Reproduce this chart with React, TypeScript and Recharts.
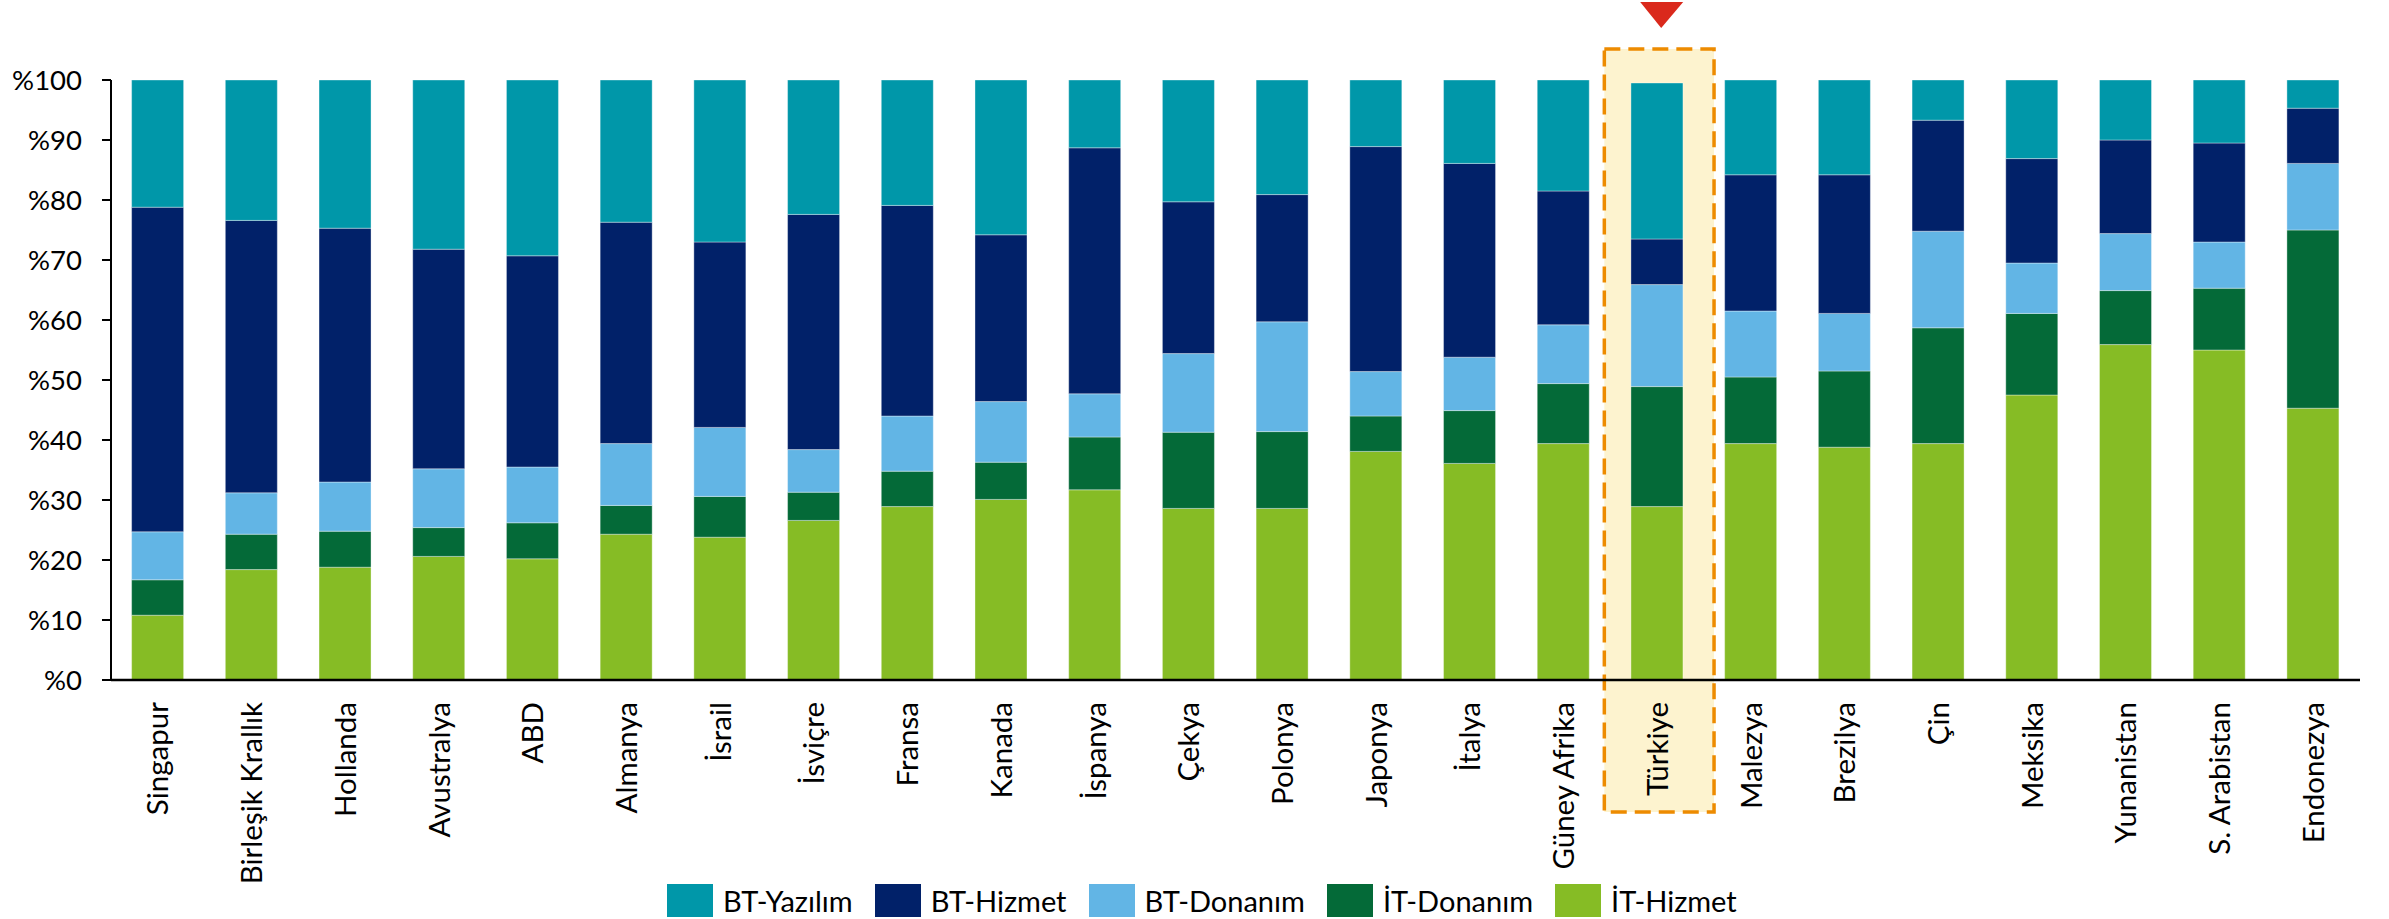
import React from "react";
import { BarChart, Bar, XAxis, YAxis, ReferenceArea } from "recharts";

// ülkeler (soldan sağa)
const countries = [
  "Singapur", "Birleşik Krallık", "Hollanda", "Avustralya", "ABD", "Almanya",
  "İsrail", "İsviçre", "Fransa", "Kanada", "İspanya", "Çekya", "Polonya",
  "Japonya", "İtalya", "Güney Afrika", "Türkiye", "Malezya", "Brezilya",
  "Çin", "Meksika", "Yunanistan", "S. Arabistan", "Endonezya",
];

// paylar (%), alttan üste
const itHizmet = [10.8, 18.4, 18.8, 20.6, 20.2, 24.3, 23.8, 26.6, 28.9, 30.1, 31.7, 28.6, 28.6, 38.1, 36.1, 39.4, 28.9, 39.4, 38.8, 39.4, 47.5, 55.9, 55.0, 45.3];
const itDonanim = [5.9, 5.9, 6.0, 4.8, 6.0, 4.8, 6.8, 4.7, 5.9, 6.2, 8.8, 12.7, 12.8, 5.9, 8.8, 10.0, 20.0, 11.1, 12.7, 19.3, 13.6, 9.0, 10.3, 29.7];
const btDonanim = [8.0, 6.9, 8.2, 9.8, 9.3, 10.3, 11.5, 7.1, 9.2, 10.1, 7.2, 13.1, 18.3, 7.4, 8.9, 9.8, 17.0, 11.0, 9.6, 16.1, 8.4, 9.5, 7.7, 11.1];
const btHizmet = [54.1, 45.4, 42.3, 36.6, 35.2, 36.9, 30.9, 39.2, 35.1, 27.8, 41.0, 25.3, 21.2, 37.5, 32.3, 22.3, 7.6, 22.7, 23.1, 18.5, 17.4, 15.6, 16.5, 9.2];
const btYazilim = [21.2, 23.4, 24.7, 28.2, 29.3, 23.7, 27.0, 22.4, 20.9, 25.8, 11.3, 20.3, 19.1, 11.1, 13.9, 18.5, 26.0, 15.8, 15.8, 6.7, 13.1, 10.0, 10.5, 4.7];

const yTicks = [0, 10, 20, 30, 40, 50, 60, 70, 80, 90, 100];
const edgeTicks = [0, 1, 2, 3, 4, 5, 6, 7, 8, 9, 10, 11, 12, 13, 14, 15, 16, 17, 18, 19, 20, 21, 22, 23, 24];
const highlighted = "Türkiye";

// legend order = top of stack first
const series = [
  { key: "btYazilim", name: "BT-Yazılım", color: "#0097A9" },
  { key: "btHizmet", name: "BT-Hizmet", color: "#012169" },
  { key: "btDonanim", name: "BT-Donanım", color: "#62B5E5" },
  { key: "itDonanim", name: "İT-Donanım", color: "#046A38" },
  { key: "itHizmet", name: "İT-Hizmet", color: "#86BC25" },
];

const data = countries.map((country, i) => ({
  country,
  itHizmet: itHizmet[i],
  itDonanim: itDonanim[i],
  btDonanim: btDonanim[i],
  btHizmet: btHizmet[i],
  btYazilim: btYazilim[i],
}));

const FONT = "Lato, 'Noto Sans', sans-serif";

function CountryTick(props: any) {
  const { x, y, payload } = props;
  return (
    <text
      x={x}
      y={y}
      transform={`rotate(-90, ${x}, ${y})`}
      textAnchor="end"
      dy="0.36em"
      fontFamily={FONT}
      fontSize={29.5}
      fill="#000"
    >
      {payload.value}
    </text>
  );
}

function HighlightBox(props: any) {
  const { x, y, width, height } = props;
  const left = x - 6;
  const right = x + width + 10;
  const top = y - 31;
  const bottom = y + height + 132;
  const cx = (left + right) / 2 + 2;
  return (
    <g>
      <rect
        x={left}
        y={top}
        width={right - left}
        height={bottom - top}
        fill="#FDF3CF"
        stroke="#ED8B00"
        strokeWidth={3.5}
        strokeDasharray="16 8"
      />
      <polygon
        points={`${cx - 21},${top - 47} ${cx + 22},${top - 47} ${cx},${top - 21}`}
        fill="#DA291C"
      />
    </g>
  );
}

export default function App() {
  const stackOrder = [...series].reverse();
  return (
    <div style={{ position: "absolute", left: 0, top: 0, width: 2389, height: 919, background: "#fff" }}>
      <BarChart
        width={2389}
        height={919}
        data={data}
        margin={{ top: 80, right: 29, bottom: 89, left: 0 }}
        barCategoryGap="22%"
      >
        <ReferenceArea
          xAxisId="cat"
          x1={highlighted}
          x2={highlighted}
          y1={0}
          y2={100}
          ifOverflow="visible"
          shape={<HighlightBox />}
        />
        <XAxis
          xAxisId="edge"
          type="number"
          domain={[0, 24]}
          ticks={edgeTicks}
          interval={0}
          tick={false}
          tickSize={10}
          height={0}
          axisLine={false}
          tickLine={{ stroke: "#000", strokeWidth: 2 }}
          allowDataOverflow
        />
        <XAxis
          xAxisId="cat"
          dataKey="country"
          type="category"
          interval={0}
          height={150}
          tickLine={false}
          tickSize={10}
          tickMargin={12}
          axisLine={{ stroke: "#000", strokeWidth: 2.5 }}
          tick={<CountryTick />}
        />
        <YAxis
          width={111}
          domain={[0, 100]}
          ticks={yTicks}
          interval={0}
          tickSize={9}
          tickMargin={20}
          axisLine={{ stroke: "#000", strokeWidth: 2 }}
          tickLine={{ stroke: "#000", strokeWidth: 2 }}
          tickFormatter={(v) => `%${v}`}
          tick={{ fontFamily: FONT, fontSize: 27.5, fill: "#000" }}
        />
        {stackOrder.map((s) => (
          <Bar
            key={s.key}
            xAxisId="cat"
            dataKey={s.key}
            name={s.name}
            stackId="a"
            fill={s.color}
            stroke="#ffffff"
            strokeWidth={0.6}
            strokeOpacity={0.6}
            isAnimationActive={false}
          />
        ))}
      </BarChart>
      <div
        style={{
          position: "absolute",
          left: 667,
          top: 883,
          display: "flex",
          alignItems: "center",
          gap: 22,
          fontFamily: FONT,
          fontSize: 29,
          color: "#000",
        }}
      >
        {series.map((s) => (
          <div key={s.key} style={{ display: "flex", alignItems: "center", gap: 10 }}>
            <div style={{ width: 46, height: 33, background: s.color }} />
            <span>{s.name}</span>
          </div>
        ))}
      </div>
    </div>
  );
}
